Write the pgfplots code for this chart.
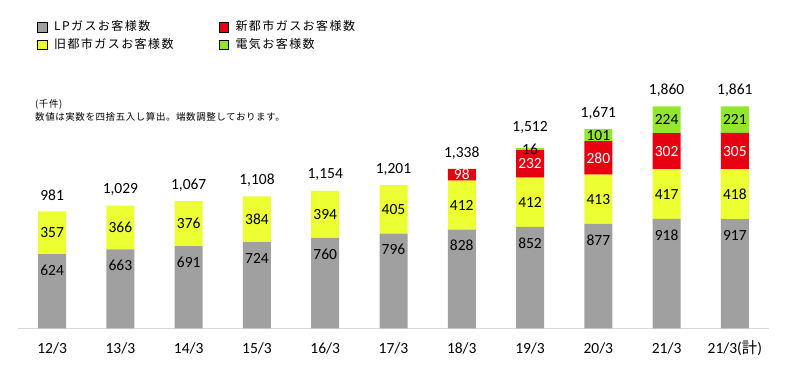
\documentclass[border=0pt]{standalone}
\usepackage{pgfplots}
\usepackage{pgfplotstable}
\pgfplotsset{compat=1.18}
\usepackage{fontspec}
\setmainfont{Carlito}
\newfontfamily\jp[LetterSpace=12]{Noto Sans CJK JP}
\newfontfamily\jps[LetterSpace=6]{Noto Sans CJK JP}
\newfontfamily\jpn{Noto Sans CJK JP}
\definecolor{cLP}{HTML}{A0A0A0}
\definecolor{cOld}{HTML}{EBFF33}
\definecolor{cNew}{HTML}{E60012}
\definecolor{cEl}{HTML}{92E62E}
\definecolor{cAx}{HTML}{D9D9D9}
\pgfplotstableread{
x lp old new el tot dy
0 624 357 0 0 981 0
1 663 366 0 0 1029 0
2 691 376 0 0 1067 0
3 724 384 0 0 1108 0
4 760 394 0 0 1154 0
5 796 405 0 0 1201 0
6 828 412 98 0 1338 0
7 852 412 232 16 1512 5
8 877 413 280 101 1671 0
9 918 417 302 224 1860 0
10 917 418 305 221 1861 0
}\data
\newcommand{\lblfont}{\fontsize{15.5}{18}\selectfont}
\newcommand{\nzprint}{\pgfmathfloatifflags{\pgfplotspointmeta}{0}{}{\pgfmathprintnumber{\pgfplotspointmeta}}}
\pgfplotsset{frame/.style={
  at={(18pt,42.5pt)}, anchor=south west,
  scale only axis, width=751pt, height=274.4pt,
  xmin=-0.5, xmax=10.5, ymin=0, ymax=2300,
  /pgf/number format/assume math mode=true}}
\begin{document}
\begin{tikzpicture}[x=1pt,y=1pt]
\path[use as bounding box] (0,0) rectangle (787,371);
\begin{axis}[frame,
  ybar stacked, bar width=28pt,
  axis x line*=bottom, axis y line=none,
  x axis line style={draw=cAx, line width=1.2pt, -},
  xtick={0,...,10},
  xticklabels={12/3,13/3,14/3,15/3,16/3,17/3,18/3,19/3,20/3,21/3,{21/3({\jpn 計})}},
  major tick length=0pt, xtick style={draw=none},
  xticklabel style={anchor=center, yshift=-20pt, font=\lblfont},
  every node near coord/.append style={font=\lblfont},
  legend columns=2,
  legend cell align=left,
  legend image code/.code={\fill[#1] (0pt,-1pt) rectangle (9.5pt,8.5pt);},
  legend style={at={(rel axis cs:0.0253,1.1225)}, anchor=north west, draw=none, fill=none,
    font=\jp\fontsize{12}{14}\selectfont, inner sep=0pt, row sep=6pt,
    nodes={inner sep=0pt, anchor=base west},
    /tikz/every odd column/.style={column sep=7pt},
    /tikz/every even column/.style={column sep=45pt}},
]
\addplot[fill=cLP, draw=none, forget plot,
  nodes near coords={\nzprint}, point meta=explicit,
  visualization depends on={\thisrow{lp} \as \rawy},
  every node near coord/.append style={anchor=center, shift={(axis direction cs:0,\rawy/2)}, yshift=-16pt, text=black}]
  table[x=x, y=lp, meta=lp]{\data};
\addplot[fill=cOld, draw=none, forget plot,
  nodes near coords={\nzprint}, point meta=explicit,
  every node near coord/.append style={anchor=center, text=black}]
  table[x=x, y=old, meta=old]{\data};
\addplot[fill=cNew, draw=none, forget plot,
  nodes near coords={\nzprint}, point meta=explicit,
  every node near coord/.append style={anchor=center, text=white}]
  table[x=x, y=new, meta=new]{\data};
\addplot[fill=cEl, draw=none, forget plot,
  nodes near coords={\nzprint}, point meta=explicit,
  every node near coord/.append style={anchor=center, text=black}]
  table[x=x, y=el, meta=el]{\data};
\addlegendimage{fill=cLP}
\addlegendentry{LPガスお客様数}
\addlegendimage{fill=cNew}
\addlegendentry{新都市ガスお客様数}
\addlegendimage{fill=cOld}
\addlegendentry{旧都市ガスお客様数}
\addlegendimage{fill=cEl}
\addlegendentry{電気お客様数}
\end{axis}
\begin{axis}[frame, hide axis]
\addplot[only marks, mark=*, mark size=0pt, mark options={draw=none, fill=none},
  nodes near coords={\pgfmathprintnumber{\pgfplotspointmeta}}, point meta=explicit,
  visualization depends on={\thisrow{dy} \as \extrady},
  every node near coord/.append style={anchor=center, yshift={(16+\extrady)*1pt}, font=\lblfont, text=black}]
  table[x=x, y expr=\thisrow{lp}+\thisrow{old}+\thisrow{new}+\thisrow{el}, meta=tot]{\data};
\end{axis}
\node[anchor=west, inner sep=0pt, font=\jps\fontsize{9.5}{11}\selectfont] at (35,267) {(千件)};
\node[anchor=west, inner sep=0pt, font=\jps\fontsize{9.5}{11}\selectfont] at (35,254) {数値は実数を四捨五入し算出。端数調整しております。};
\end{tikzpicture}
\end{document}
